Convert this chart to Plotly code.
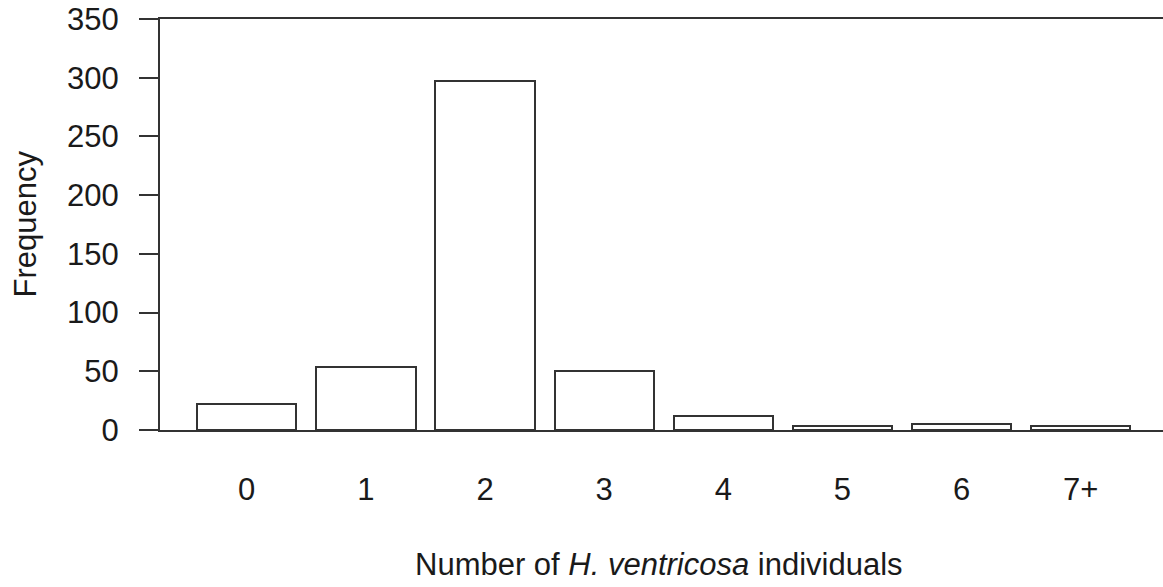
import plotly.graph_objects as go

categories = ["0", "1", "2", "3", "4", "5", "6", "7+"]
frequency = [22, 54, 297, 50, 12, 3, 5, 3]
y_ticks = [0, 50, 100, 150, 200, 250, 300, 350]

x_pos = list(range(len(categories)))

LINE = "#333333"
TEXT = "#1a1a1a"
FONT = "Liberation Sans, Arial, sans-serif"

fig = go.Figure()
fig.add_trace(go.Bar(
    x=x_pos, y=frequency, width=0.8333,
    marker=dict(color="white", line=dict(color=LINE, width=2)),
    showlegend=False, hoverinfo="x+y",
))

W, H = 1163, 587
L, R, T, B = 160, 0, 19, 157
fig.update_layout(
    width=W, height=H,
    margin=dict(l=L, r=R, t=T, b=B, pad=0),
    paper_bgcolor="white", plot_bgcolor="white",
    font=dict(family=FONT, size=31, color=TEXT),
    bargap=0,
    xaxis=dict(
        range=[-0.728, 7.691],
        tickvals=x_pos, ticktext=categories,
        showgrid=False, zeroline=False,
        showline=True, mirror=True, linecolor=LINE, linewidth=2,
        ticks="", ticklabelstandoff=31,
    ),
    yaxis=dict(
        range=[0, 350],
        tickvals=y_ticks,
        showgrid=False, zeroline=False,
        showline=True, mirror=False, linecolor=LINE, linewidth=2,
        ticks="outside", ticklen=19, tickwidth=2, tickcolor=LINE,
        ticklabelstandoff=14,
    ),
    annotations=[
        dict(text="Frequency", xref="paper", yref="paper",
             x=(25 - L) / (W - L - R), y=0.5, textangle=-90,
             xanchor="center", yanchor="middle", showarrow=False,
             font=dict(size=31, color=TEXT, family=FONT)),
        dict(text="Number of <i>H. ventricosa</i> individuals",
             xref="paper", yref="paper",
             x=(658.5 - L) / (W - L - R), y=(H - B - 564) / (H - B - T),
             xanchor="center", yanchor="middle", showarrow=False,
             font=dict(size=31, color=TEXT, family=FONT)),
    ],
)

fig.write_html("out.html")
